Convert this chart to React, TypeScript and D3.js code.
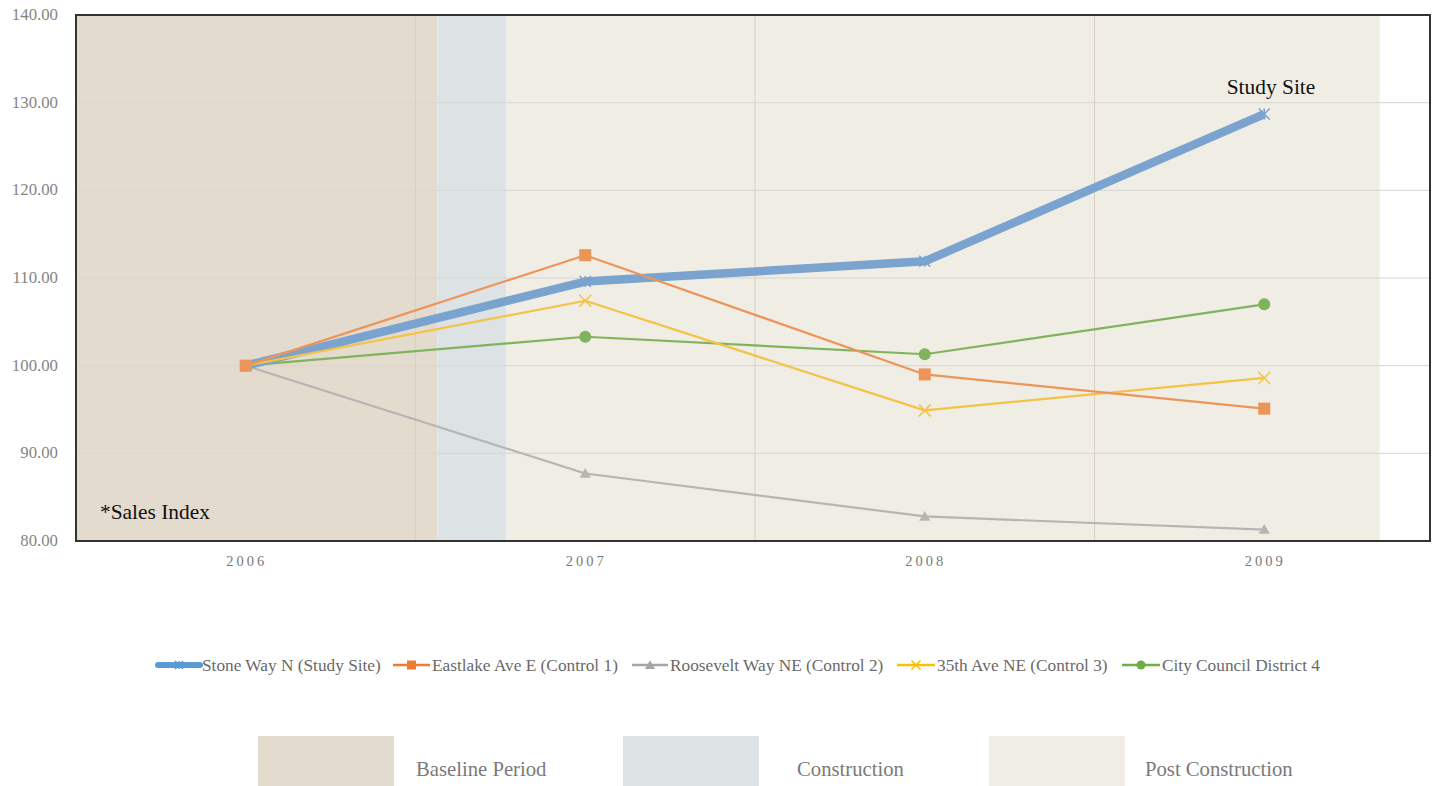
import React, { useEffect, useRef } from 'react';
import * as d3 from 'd3';

// categories and series
const years = ['2006', '2007', '2008', '2009'];
const stoneWay = [100, 109.6, 111.9, 128.7];
const eastlake = [100, 112.6, 99.0, 95.1];
const roosevelt = [100, 87.7, 82.8, 81.3];
const ave35th = [100, 107.4, 94.9, 98.6];
const district4 = [100, 103.3, 101.3, 107.0];

const seriesNames = [
  'Stone Way N (Study Site)',
  'Eastlake Ave E (Control 1)',
  'Roosevelt Way NE (Control 2)',
  '35th Ave NE (Control 3)',
  'City Council District 4',
];

// periods, as fractional positions along the year axis (in years)
const periodNames = ['Baseline Period', 'Construction', 'Post Construction'];
const periodStart = [2005.5, 2006.565, 2006.768];
const periodEnd = [2006.565, 2006.768, 2009.34];

const yTicks = [80, 90, 100, 110, 120, 130, 140];

const App: React.FC = () => {
  const svgRef = useRef<SVGSVGElement | null>(null);

  useEffect(() => {
    if (!svgRef.current) return;
    const svg = d3.select(svgRef.current);
    svg.selectAll('*').remove();

    const width = 1437;
    const height = 786;
    const margin = { top: 15, right: 7, bottom: 245, left: 76 };
    const serif = "'Liberation Serif', 'Times New Roman', serif";

    const x = d3.scaleBand<string>()
      .domain(years)
      .range([margin.left, 1434])
      .padding(0);
    const xc = (i: number) => (x(years[i]) as number) + x.bandwidth() / 2;
    // continuous year scale for period shading
    const xYear = d3.scaleLinear()
      .domain([2006, 2007])
      .range([xc(0), xc(1)]);

    const y = d3.scaleLinear()
      .domain([80, 140])
      .range([height - margin.bottom, margin.top]);

    const plotRight = width - margin.right;
    const periodColors = ['#E4DBCF', '#DDE2E5', '#F0EDE5'];

    const g = svg.append('g');

    // period shading
    g.selectAll('.period')
      .data(periodNames)
      .enter()
      .append('rect')
      .attr('x', (_, i) => Math.max(margin.left, xYear(periodStart[i])))
      .attr('width', (_, i) => xYear(periodEnd[i]) - Math.max(margin.left, xYear(periodStart[i])))
      .attr('y', y(140))
      .attr('height', y(80) - y(140))
      .attr('fill', (_, i) => periodColors[i]);

    // horizontal gridlines
    g.selectAll('.hgrid')
      .data(yTicks)
      .enter()
      .append('line')
      .attr('x1', margin.left)
      .attr('x2', plotRight)
      .attr('y1', d => y(d))
      .attr('y2', d => y(d))
      .attr('stroke', '#D8D5D0')
      .attr('stroke-width', 1);

    // vertical gridlines at band boundaries
    g.selectAll('.vgrid')
      .data(years.slice(1))
      .enter()
      .append('line')
      .attr('x1', d => x(d) as number)
      .attr('x2', d => x(d) as number)
      .attr('y1', y(140))
      .attr('y2', y(80))
      .attr('stroke', '#D6D0C8')
      .attr('stroke-width', 1);

    // frame
    g.append('rect')
      .attr('x', margin.left)
      .attr('y', y(140))
      .attr('width', plotRight - margin.left)
      .attr('height', y(80) - y(140))
      .attr('fill', 'none')
      .attr('stroke', '#333')
      .attr('stroke-width', 2);

    // y axis labels
    g.selectAll('.ylab')
      .data(yTicks)
      .enter()
      .append('text')
      .attr('x', 58)
      .attr('y', d => y(d) + 5)
      .attr('text-anchor', 'end')
      .attr('font-family', serif)
      .attr('font-size', 16.8)
      .attr('fill', '#858585')
      .text(d => d3.format('.2f')(d));

    // x axis labels
    g.selectAll('.xlab')
      .data(years)
      .enter()
      .append('text')
      .attr('x', (_, i) => xc(i) + 1)
      .attr('y', 566)
      .attr('text-anchor', 'middle')
      .attr('font-family', serif)
      .attr('font-size', 14.5)
      .attr('letter-spacing', 3)
      .attr('fill', '#7A7A7A')
      .text(d => d);

    const line = d3.line<number>()
      .x((_, i) => xc(i))
      .y(d => y(d));

    const seriesData = [stoneWay, eastlake, roosevelt, ave35th, district4];
    const lineColors = ['#7AA3CF', '#EC955A', '#B7B5B2', '#F3C348', '#80B35C'];
    const legendColors = ['#5B9BD5', '#ED7D31', '#A5A5A5', '#FFC000', '#70AD47'];
    const lineWidths = [8.5, 2.2, 2.2, 2.2, 2.2];

    const drawMarker = (sel: d3.Selection<SVGGElement, unknown, null, undefined>, k: number, cx: number, cy: number, color: string, s: number) => {
      if (k === 0 || k === 3) {
        const r = s / 2;
        sel.append('path')
          .attr('d', `M${cx - r},${cy - r}L${cx + r},${cy + r}M${cx - r},${cy + r}L${cx + r},${cy - r}` + (k === 0 ? `M${cx},${cy - r}L${cx},${cy + r}` : ''))
          .attr('stroke', color)
          .attr('stroke-width', 1.5)
          .attr('fill', 'none');
      } else if (k === 1) {
        sel.append('rect')
          .attr('x', cx - s / 2).attr('y', cy - s / 2)
          .attr('width', s).attr('height', s)
          .attr('fill', color);
      } else if (k === 2) {
        sel.append('path')
          .attr('d', d3.symbol(d3.symbolTriangle, s * s * 0.55)())
          .attr('transform', `translate(${cx},${cy + 1})`)
          .attr('fill', color);
      } else {
        sel.append('circle')
          .attr('cx', cx).attr('cy', cy).attr('r', s / 2)
          .attr('fill', color);
      }
    };

    // controls under, study site in the middle, orange on top
    const drawOrder = [2, 4, 0, 3, 1];
    drawOrder.forEach(k => {
      const sg = g.append('g');
      sg.append('path')
        .datum(seriesData[k])
        .attr('d', line)
        .attr('fill', 'none')
        .attr('stroke', lineColors[k])
        .attr('stroke-width', lineWidths[k])
        .attr('stroke-linejoin', 'round');
      const sizes = [11, 12, 10, 12, 12];
      seriesData[k].forEach((v, i) => {
        drawMarker(sg, k, xc(i), y(v), lineColors[k], sizes[k]);
      });
    });

    // annotations
    g.append('text')
      .attr('x', 1271)
      .attr('y', 94)
      .attr('text-anchor', 'middle')
      .attr('font-family', serif)
      .attr('font-size', 21.4)
      .attr('fill', '#111')
      .text('Study Site');

    g.append('text')
      .attr('x', 100)
      .attr('y', 519)
      .attr('font-family', serif)
      .attr('font-size', 21.4)
      .attr('fill', '#111')
      .text('*Sales Index');

    // series legend
    const legendX = [158, 393, 632, 897, 1122];
    const legendLineLen = [42, 37, 36, 38, 38];
    const ly = 665;
    seriesNames.forEach((name, k) => {
      const lg = g.append('g');
      lg.append('line')
        .attr('x1', legendX[k]).attr('x2', legendX[k] + legendLineLen[k])
        .attr('y1', ly).attr('y2', ly)
        .attr('stroke', legendColors[k])
        .attr('stroke-width', k === 0 ? 6 : 2.5)
        .attr('stroke-linecap', k === 0 ? 'round' : 'butt');
      drawMarker(lg, k, legendX[k] + legendLineLen[k] / 2, ly, legendColors[k], k === 0 ? 8 : 9);
      lg.append('text')
        .attr('x', legendX[k] + legendLineLen[k] + 2)
        .attr('y', ly + 5.5)
        .attr('font-family', serif)
        .attr('font-size', 17.3)
        .attr('fill', '#6A6A6A')
        .text(name);
    });

    // period legend
    const boxX = [258, 623, 989];
    const labelX = [416, 797, 1145];
    periodNames.forEach((name, i) => {
      g.append('rect')
        .attr('x', boxX[i]).attr('y', 736)
        .attr('width', 136).attr('height', 55)
        .attr('fill', periodColors[i]);
      g.append('text')
        .attr('x', labelX[i])
        .attr('y', 776)
        .attr('font-family', serif)
        .attr('font-size', 20.7)
        .attr('fill', '#7A7A7A')
        .text(name);
    });
  }, []);

  return (
    <svg
      ref={svgRef}
      width={1437}
      height={786}
      style={{ position: 'absolute', left: 0, top: 0, display: 'block', background: '#fff' }}
    />
  );
};

export default App;
